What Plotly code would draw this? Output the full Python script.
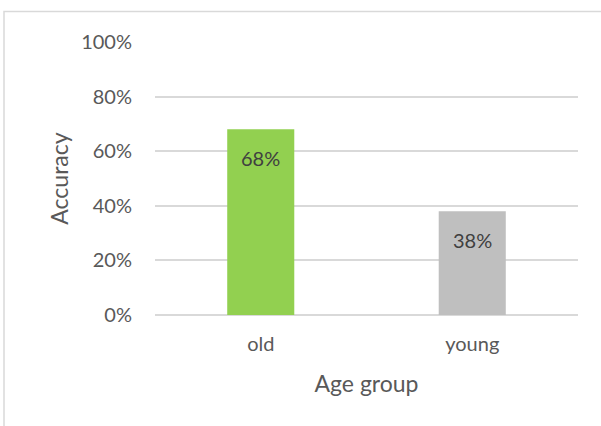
import plotly.graph_objects as go

categories = ["old", "young"]
accuracy = [0.68, 0.38]
bar_colors = ["#92d050", "#bfbfbf"]
labels = ["68%", "38%"]
tick_vals = [0, 0.2, 0.4, 0.6, 0.8, 1.0]
tick_text = ["0%", "20%", "40%", "60%", "80%", "100%"]

FONT = "Lato, Open Sans, sans-serif"

fig = go.Figure()
fig.add_trace(go.Bar(
    x=categories, y=accuracy,
    marker=dict(color=bar_colors, line=dict(width=0)),
    width=0.317,
    hoverinfo="skip",
))

for c, v, t in zip(categories, accuracy, labels):
    fig.add_annotation(x=c, y=v, text=t, showarrow=False, yanchor="middle",
                       yshift=-29, font=dict(family=FONT, size=20, color="#404040"))

fig.update_layout(
    width=601, height=426,
    margin=dict(l=155, r=23, t=42, b=111),
    paper_bgcolor="white", plot_bgcolor="white",
    showlegend=False,
    font=dict(family=FONT, color="#595959", size=20),
    xaxis=dict(
        showgrid=False, showline=False, zeroline=False, ticks="",
        tickfont=dict(size=20, color="#595959"),
        ticklabelstandoff=15,
        title=dict(text="Age group", font=dict(size=23, color="#595959"), standoff=21),
    ),
    yaxis=dict(
        range=[0, 1.0], tickvals=tick_vals, ticktext=tick_text,
        showgrid=True, gridcolor="#d9d9d9", gridwidth=1.5,
        zeroline=True, zerolinecolor="#d9d9d9", zerolinewidth=1.5,
        showline=False, ticks="",
        tickfont=dict(size=20, color="#595959"),
        ticklabelstandoff=22,
        title=dict(text="Accuracy", font=dict(size=23, color="#595959"), standoff=6),
    ),
    shapes=[dict(type="rect", xref="paper", yref="paper",
                 x0=(4 - 155) / 423, x1=1.2, y0=-0.5, y1=(315 - 11.5) / 273,
                 line=dict(color="#d9d9d9", width=1.5), fillcolor="rgba(0,0,0,0)",
                 layer="below")],
)

fig.write_html("out.html")
